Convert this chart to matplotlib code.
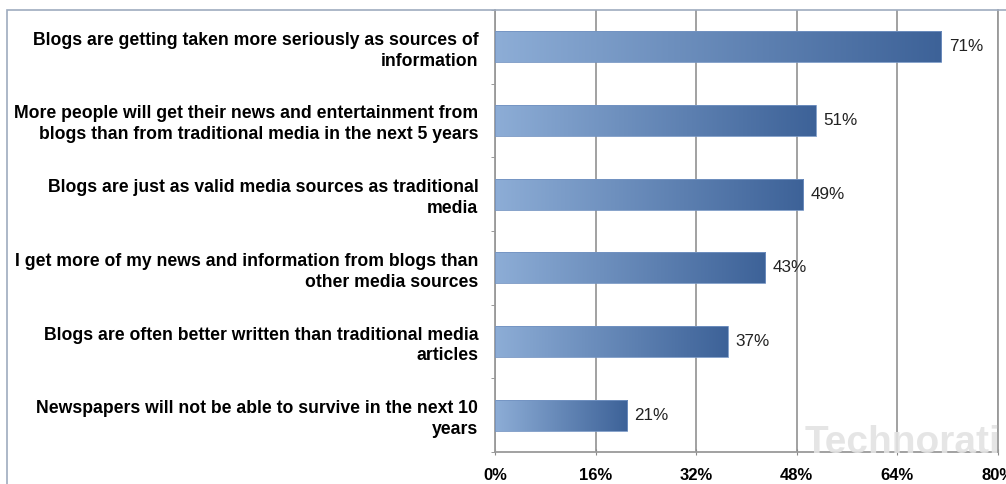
import numpy as np
import matplotlib
matplotlib.use("Agg")
import matplotlib.pyplot as plt
from matplotlib.colors import LinearSegmentedColormap
from matplotlib.patches import Rectangle

categories = [
    "Blogs are getting taken more seriously as sources of\ninformation",
    "More people will get their news and entertainment from\nblogs than from traditional media in the next 5 years",
    "Blogs are just as valid media sources as traditional\nmedia",
    "I get more of my news and information from blogs than\nother media sources",
    "Blogs are often better written than traditional media\narticles",
    "Newspapers will not be able to survive in the next 10\nyears",
]
values = [71, 51, 49, 43, 37, 21]
xticks = [0, 16, 32, 48, 64, 80]
xticklabels = ["0%", "16%", "32%", "48%", "64%", "80%"]

plt.rcParams['font.family'] = ['Liberation Sans', 'DejaVu Sans']

fig = plt.figure(figsize=(10.06, 4.84), dpi=100)
ax = fig.add_axes([495/1006, 1-452/484, (998-495)/1006, (452-10)/484])

# outer frame
fig.patches.append(Rectangle((7/1006, -0.1), 1.2, 1-10/484+0.1, transform=fig.transFigure,
                             fill=False, edgecolor="#9eabbf", linewidth=1.2, zorder=0))

y = np.arange(len(categories))
bars = ax.barh(y, values, height=0.42, color="none", edgecolor="#7393c2", linewidth=0.6, zorder=3)
cmap = LinearSegmentedColormap.from_list("g", ["#8dadd6", "#3d6298"])
grad = np.linspace(0, 1, 256).reshape(1, -1)
for b in bars:
    x0, y0 = b.get_x(), b.get_y()
    w, h = b.get_width(), b.get_height()
    ax.imshow(grad, extent=[x0, x0 + w, y0, y0 + h], aspect="auto", cmap=cmap, zorder=2,
              origin="lower")
for yi, v in zip(y, values):
    ax.text(v + 1.2, yi, f"{v}%", va="center", ha="left", fontsize=12.3, color="#222222")

ax.set_xlim(0, 80)
ax.set_ylim(len(categories) - 0.5, -0.5)
ax.set_xticks(xticks)
ax.set_xticklabels(xticklabels, fontsize=12, fontweight="bold")
ax.set_yticks(y)
ax.set_yticklabels(categories, fontsize=12.7, fontweight="bold", linespacing=1.3)
ax.set_yticks(np.arange(-0.5, len(categories), 1), minor=True)
ax.tick_params(axis="y", which="major", length=0, pad=12)
ax.tick_params(axis="y", which="minor", length=3, color="#888888")
ax.tick_params(axis="x", length=5, color="#888888", pad=9, direction="inout")
ax.xaxis.grid(True, color="#9a9a9a", linewidth=1.3, zorder=1)
ax.set_axisbelow(True)
ax.spines["top"].set_visible(False)
for s in ["right", "left", "bottom"]:
    ax.spines[s].set_color("#9a9a9a")
    ax.spines[s].set_linewidth(1.3)

fig.text(903/1006, 1-443/484, "Technorati", fontsize=28, fontweight="bold", color="#e3e3e3",
         alpha=0.9, ha="center", va="center", zorder=1)

fig.savefig("out.png", dpi=100)
